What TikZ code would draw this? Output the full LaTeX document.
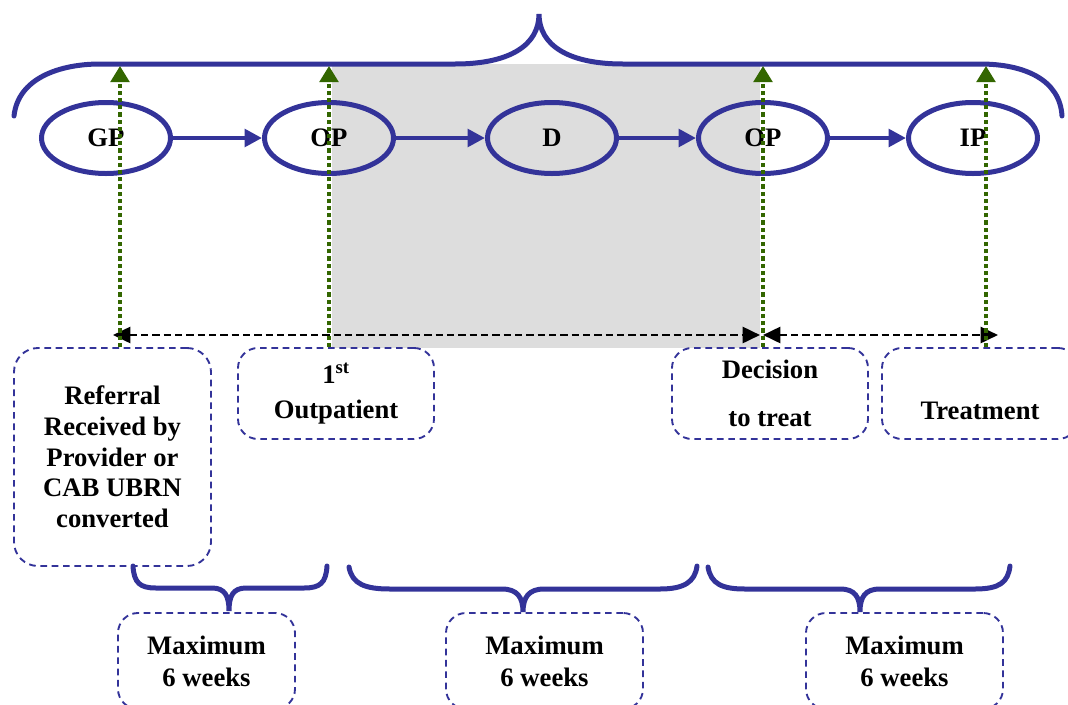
\documentclass[tikz,border=0pt]{standalone}
\usepackage{fontspec}
\setmainfont{Liberation Serif}
\usetikzlibrary{shapes,arrows.meta,positioning}

\definecolor{pathblue}{HTML}{333399}
\definecolor{markgreen}{HTML}{336600}
\definecolor{greyfill}{HTML}{DDDDDD}

\tikzset{
	stage/.style={ellipse, draw=pathblue, line width=3.75pt, minimum width=96.75pt, minimum height=53.25pt, inner sep=0pt, font=\fontsize{20}{23}\selectfont\bfseries},
	flow/.style={draw=pathblue, line width=3.2pt, -{Triangle[length=13pt,width=13pt]}},
	brace/.style={draw=pathblue, line width=3.75pt, line cap=round},
	event/.style={draw=pathblue, line width=1.4pt, dash pattern=on 5pt off 3.5pt, rounded corners=15pt, align=center, inner sep=2pt, font=\fontsize{20}{23}\selectfont\bfseries},
	milestone/.style={draw=markgreen, line width=2.4pt, dash pattern=on 3.2pt off 2.2pt, -{Triangle[length=12pt,width=14pt,fill=markgreen]}},
	span/.style={draw=black, line width=2pt, dash pattern=on 5.5pt off 3pt, {Triangle[length=13pt,width=12pt]}-{Triangle[length=13pt,width=12pt]}}
}

\begin{document}
\begin{tikzpicture}[x=0.75pt,y=-0.75pt]
	\useasboundingbox (0,0) rectangle (1068,704);
	
	\fill[greyfill] (332,64) rectangle (760,348);
	
	\draw[brace] (14,116) .. controls (18,78) and (60,64) .. (100,64) -- (455,64) .. controls (510,64) and (539,45) .. (539,14) .. controls (539,45) and (568,64) .. (623,64) -- (980,64) .. controls (1025,64) and (1060,80) .. (1062,116);
	
	\node[stage] (gp) at (106,138) {GP};
	\node[stage] (opa) at (329,138) {OP};
	\node[stage] (diag) at (552,138) {D};
	\node[stage] (opb) at (763,138) {OP};
	\node[stage] (ip) at (973,138) {IP};
	
	\draw[flow] (gp) -- (opa);
	\draw[flow] (opa) -- (diag);
	\draw[flow] (diag) -- (opb);
	\draw[flow] (opb) -- (ip);
	
	\node[event, minimum width=147.75pt, minimum height=163.5pt, rounded corners=18pt] (referral) at (112.5,457) {Referral\\Received by\\Provider or\\CAB UBRN\\converted};
	\node[event, minimum width=147pt, minimum height=68.25pt] (first) at (336,393.5) {1\textsuperscript{st}\\[3pt]Outpatient};
	\node[event, minimum width=147pt, minimum height=68.25pt] (decide) at (770,393.5) {Decision\\[13pt]to treat};
	\node[event, minimum width=147pt, minimum height=68.25pt, text height=38.7pt, text depth=0pt] (treat) at (980,393.5) {Treatment};
	
	\coordinate (s1) at (113,335);
	\coordinate (s2) at (760,335);
	\coordinate (s3) at (763,335);
	\coordinate (s4) at (998,335);
	\draw[span] (s1) -- (s2);
	\draw[span] (s3) -- (s4);
	
	\coordinate (g1) at (120,66);
	\coordinate (g2) at (329,66);
	\coordinate (g3) at (763,66);
	\coordinate (g4) at (986,66);
	\draw[milestone] (referral.north -| g1) -- (g1);
	\draw[milestone] (first.north -| g2) -- (g2);
	\draw[milestone] (decide.north -| g3) -- (g3);
	\draw[milestone] (treat.north -| g4) -- (g4);
	
	\draw[brace] (133,566) .. controls (134,583) and (140,588) .. (156,588) -- (212,588) .. controls (225,588) and (229,596) .. (229,611) .. controls (229,596) and (233,588) .. (246,588) -- (304,588) .. controls (320,588) and (326,583) .. (327,566);
	\draw[brace] (349,567) .. controls (352,584) and (365,589) .. (390,589) -- (502,589) .. controls (517,589) and (523,597) .. (523,612) .. controls (523,597) and (529,589) .. (544,589) -- (660,589) .. controls (684,589) and (695,582) .. (697,566);
	\draw[brace] (708,567) .. controls (711,584) and (722,589) .. (745,589) -- (840,589) .. controls (855,589) and (860,597) .. (860,612) .. controls (860,597) and (865,589) .. (880,589) -- (975,589) .. controls (1000,589) and (1008,582) .. (1010,566);
	
	\node[event, minimum width=132.75pt, minimum height=72pt, font=\fontsize{20}{24}\selectfont\bfseries] (waita) at (206.5,661) {Maximum\\6 weeks};
	\node[event, minimum width=147.75pt, minimum height=72pt, font=\fontsize{20}{24}\selectfont\bfseries] (waitb) at (544.5,661) {Maximum\\6 weeks};
	\node[event, minimum width=147.75pt, minimum height=72pt, font=\fontsize{20}{24}\selectfont\bfseries] (waitc) at (904.5,661) {Maximum\\6 weeks};
\end{tikzpicture}
\end{document}
